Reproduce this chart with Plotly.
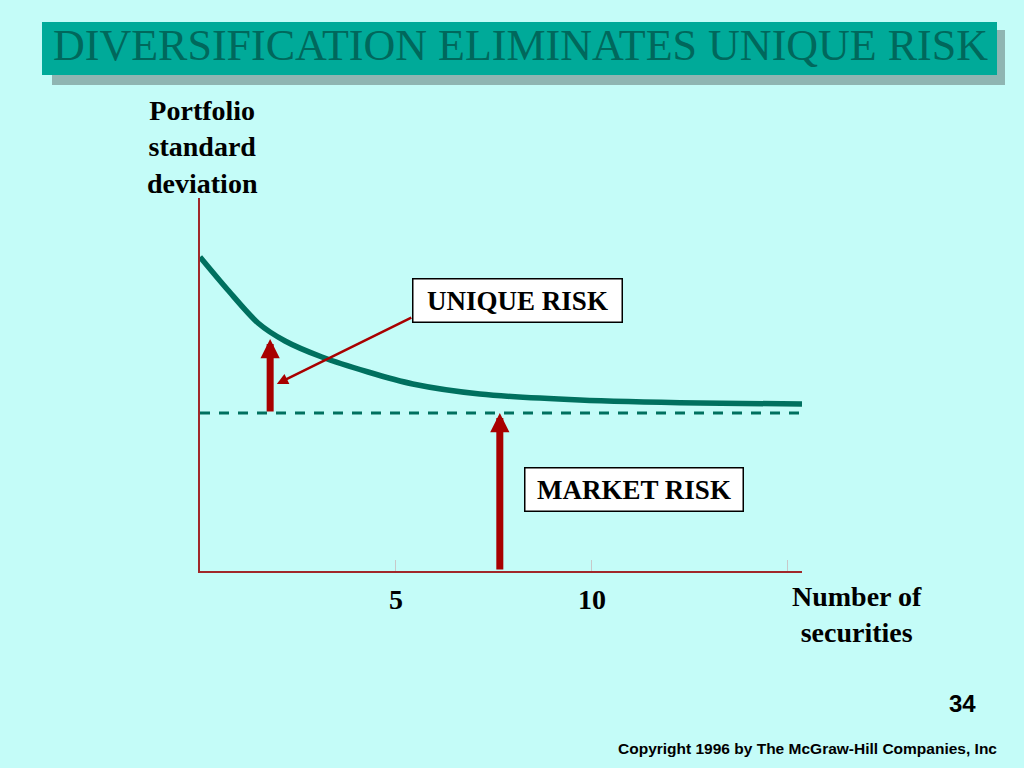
import plotly.graph_objects as go

# ---------------- data ----------------
curve_x = [0, 0.71, 1.48, 2.17, 3.11, 4.29, 5.43, 7.14, 9.69, 12.76, 15.36]
curve_y = [31.4, 28.1, 24.8, 23.0, 21.4, 19.9, 18.7, 17.7, 17.1, 16.8, 16.7]
market_level = 15.8
x_max = 15.36
y_max = 37.3
tick_vals = [5, 10, 15]
tick_text = ["5", "10", ""]

unique_arrow = {"x": 1.79, "y_from": market_level, "y_to": 23.2}
market_arrow = {"x": 7.65, "y_from": 0, "y_to": market_level}
pointer_from = (5.43, 25.4)
pointer_to = (1.96, 18.7)
unique_label = (8.11, 27.1, "UNIQUE RISK")
market_label = (11.08, 8.2, "MARKET RISK")

title_text = "DIVERSIFICATION ELIMINATES UNIQUE RISK"
y_title = "Portfolio<br>standard<br>deviation"
x_title = "Number of<br>securities"
page_no = "34"
copyright_text = "Copyright 1996 by The McGraw-Hill Companies, Inc"

# ---------------- style ----------------
BG = "#C4FCF8"
TEAL = "#00705F"
RED = "#A80000"
AXIS = "#A0282A"
SERIF = "Liberation Serif"
W, H = 1024, 768
L, R, T, B = 200, 1024 - 802, 198, 768 - 571


def px(x):
    return (x - L) / (W - L - R)


def py(y):
    return (H - B - y) / (H - T - B)


fig = go.Figure()

fig.add_trace(go.Scatter(
    x=[0, x_max], y=[market_level, market_level], mode="lines",
    line=dict(color=TEAL, width=3, dash="10px,9px"), hoverinfo="skip"))

fig.add_trace(go.Scatter(
    x=curve_x, y=curve_y, mode="lines",
    line=dict(color=TEAL, width=5.5, shape="spline", smoothing=0.8),
    hoverinfo="skip"))

annotations = []
for arr in (unique_arrow, market_arrow):
    annotations.append(dict(
        x=arr["x"], y=arr["y_to"], ax=arr["x"], ay=arr["y_from"],
        xref="x", yref="y", axref="x", ayref="y", text="",
        showarrow=True, arrowhead=2, arrowwidth=7, arrowsize=0.55,
        arrowcolor=RED, standoff=0, startstandoff=0))

annotations.append(dict(
    x=pointer_to[0], y=pointer_to[1], ax=pointer_from[0], ay=pointer_from[1],
    xref="x", yref="y", axref="x", ayref="y", text="",
    showarrow=True, arrowhead=2, arrowwidth=2.5, arrowsize=0.9,
    arrowcolor=RED, standoff=0))

for (lx, ly, txt), (bw, bh) in ((unique_label, (206, 40)), (market_label, (215, 40))):
    annotations.append(dict(
        x=lx, y=ly, xref="x", yref="y", text="<b>%s</b>" % txt, showarrow=False,
        font=dict(family=SERIF, size=27, color="black"),
        bgcolor="white", bordercolor="black", borderwidth=1.5,
        width=bw, height=bh, borderpad=1, xanchor="center", yanchor="middle"))

annotations.append(dict(
    x=px(520), y=py(46), xref="paper", yref="paper", text=title_text,
    showarrow=False, font=dict(family=SERIF, size=44, color="#00685C"),
    xanchor="center", yanchor="middle"))

annotations.append(dict(
    x=px(202), y=py(147), xref="paper", yref="paper", text="<b>%s</b>" % y_title,
    showarrow=False, font=dict(family=SERIF, size=28, color="black"),
    xanchor="center", yanchor="middle", align="center"))

annotations.append(dict(
    x=px(857), y=py(614), xref="paper", yref="paper", text="<b>%s</b>" % x_title,
    showarrow=False, font=dict(family=SERIF, size=28, color="black"),
    xanchor="center", yanchor="middle", align="center"))

annotations.append(dict(
    x=px(962), y=py(703), xref="paper", yref="paper", text="<b>%s</b>" % page_no,
    showarrow=False, font=dict(family="Liberation Sans", size=24, color="black"),
    xanchor="center", yanchor="middle"))

annotations.append(dict(
    x=px(807), y=py(748), xref="paper", yref="paper", text="<b>%s</b>" % copyright_text,
    showarrow=False, font=dict(family="Liberation Sans", size=15.5, color="black"),
    xanchor="center", yanchor="middle"))

shapes = [
    dict(type="rect", xref="paper", yref="paper", x0=px(52), x1=px(1005),
         y0=py(30), y1=py(85), fillcolor="#8FB5B2", line=dict(width=0), layer="below"),
    dict(type="rect", xref="paper", yref="paper", x0=px(42), x1=px(997),
         y0=py(22), y1=py(75), fillcolor="#00AA99", line=dict(width=0), layer="below"),
]

fig.update_layout(
    width=W, height=H, margin=dict(l=L, r=R, t=T, b=B),
    paper_bgcolor=BG, plot_bgcolor=BG, showlegend=False,
    annotations=annotations, shapes=shapes,
    xaxis=dict(range=[0, x_max], showline=True, linecolor=AXIS, linewidth=1.5,
               showgrid=False, zeroline=False, ticks="inside", ticklen=11,
               tickcolor="#C8C8C8", tickwidth=1, tickvals=tick_vals, ticktext=tick_text,
               tickfont=dict(family=SERIF, size=28, color="black", weight="bold"),
               ticklabelstandoff=3, fixedrange=True),
    yaxis=dict(range=[0, y_max], showline=True, linecolor=AXIS, linewidth=1.5,
               showgrid=False, zeroline=False, showticklabels=False, ticks="",
               fixedrange=True),
)

fig.write_html("out.html", config={"displayModeBar": False},
               post_script="document.body.style.margin='0';")
